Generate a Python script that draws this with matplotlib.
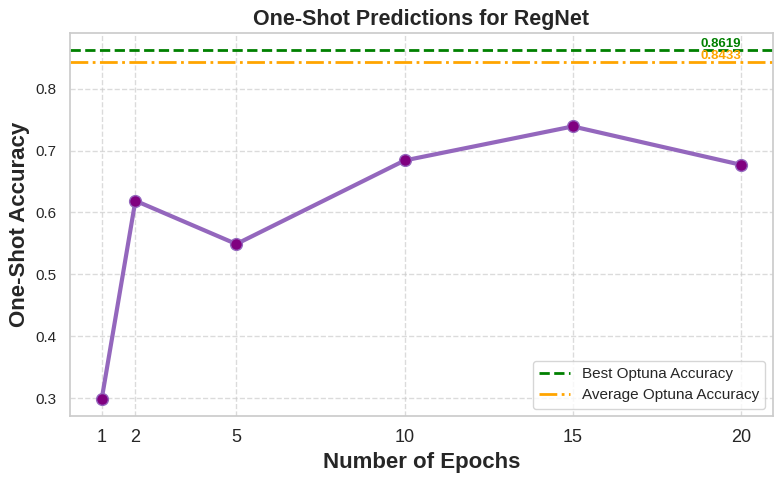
import matplotlib
matplotlib.use('Agg')
import matplotlib.pyplot as plt
import seaborn as sns

# data
epochs = [1, 2, 5, 10, 15, 20]
accuracy = [0.299, 0.619, 0.549, 0.684, 0.739, 0.677]
best_optuna = 0.8619
avg_optuna = 0.8433

sns.set_theme(style='whitegrid')
plt.rcParams['font.family'] = ['Liberation Sans', 'DejaVu Sans']

fig, ax = plt.subplots(figsize=(7.84, 4.84), dpi=100)

ax.plot(epochs, accuracy, color='tab:purple', linewidth=3, marker='o',
        markersize=8.5, markerfacecolor='purple', markeredgecolor='tab:purple')

ax.axhline(best_optuna, color='green', linestyle='--', linewidth=2,
           label='Best Optuna Accuracy')
ax.axhline(avg_optuna, color='orange', linestyle='-.', linewidth=2,
           label='Average Optuna Accuracy')

ax.text(epochs[-1], best_optuna, f'{best_optuna:.4f}', color='green',
        fontsize=9.5, fontweight='bold', ha='right', va='bottom')
ax.text(epochs[-1], avg_optuna, f'{avg_optuna:.4f}', color='orange',
        fontsize=9.5, fontweight='bold', ha='right', va='bottom')

ax.set_title('One-Shot Predictions for RegNet', fontsize=15.5, fontweight='bold')
ax.set_xlabel('Number of Epochs', fontsize=16, fontweight='bold')
ax.set_ylabel('One-Shot Accuracy', fontsize=16, fontweight='bold')
ax.set_xticks(epochs)
ax.tick_params(axis='x', labelsize=13)
ax.tick_params(axis='y', labelsize=11)
ax.grid(True, linestyle='--', alpha=0.7)
ax.legend(loc='lower right', fontsize=11)

fig.subplots_adjust(left=0.089, right=0.986, top=0.932, bottom=0.140)
plt.savefig('out.png')
